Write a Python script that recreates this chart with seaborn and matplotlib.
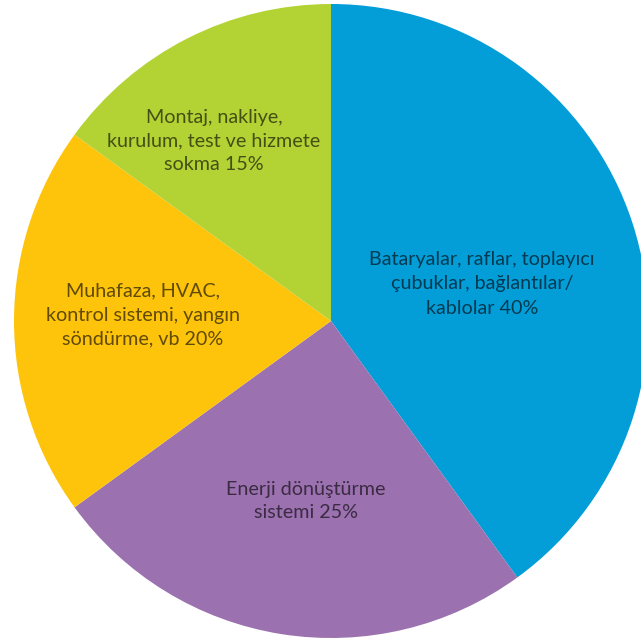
import matplotlib
matplotlib.use("Agg")
import matplotlib.pyplot as plt
import seaborn as sns

# Cost breakdown of a battery energy storage system
categories = [
    "Bataryalar, raflar, toplayıcı\nçubuklar, bağlantılar/\nkablolar",
    "Enerji dönüştürme\nsistemi",
    "Muhafaza, HVAC,\nkontrol sistemi, yangın\nsöndürme, vb",
    "Montaj, nakliye,\nkurulum, test ve hizmete\nsokma",
]
shares = [40, 25, 20, 15]
colors = ["#039DD8", "#9B71B0", "#FEC40C", "#B3D335"]

sns.set_theme(style="white")
plt.rcParams["font.family"] = ["Lato", "DejaVu Sans"]

W, H = 641, 642
fig = plt.figure(figsize=(W / 100, H / 100), dpi=100)
ax = fig.add_axes([0, 0, 1, 1])

cx, cy, r = 331, H - 321, 317
wedges, _ = ax.pie(
    shares,
    colors=sns.color_palette(colors),
    startangle=90,
    counterclock=False,
    center=(cx, cy),
    radius=r,
    frame=True,
    wedgeprops=dict(linewidth=0),
)
ax.set_xlim(0, W)
ax.set_ylim(0, H)
ax.set_aspect("equal")
ax.axis("off")

label_pos = [(482, 284), (306, 501), (143, 315), (214, 141)]
for cat, val, (x, y) in zip(categories, shares, label_pos):
    ax.text(x, H - y, f"{cat} {val}%", ha="center", va="center",
            fontsize=14.2, fontweight="normal", color="black", alpha=0.62,
            linespacing=1.5)

fig.savefig("out.png", dpi=100)
